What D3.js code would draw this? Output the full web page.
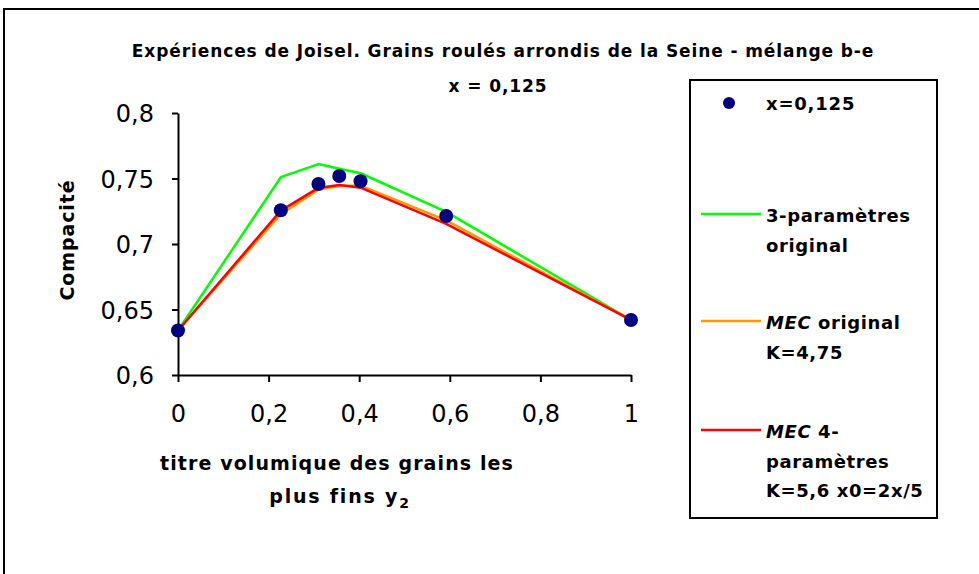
<!DOCTYPE html>
<html>
<head>
<meta charset="utf-8">
<script src="https://cdn.jsdelivr.net/npm/d3@7"></script>
<style>
  html, body { margin: 0; padding: 0; background: #fff; }
  svg { display: block; }
  .bold { font-family: "DejaVu Sans", sans-serif; font-weight: bold; }
</style>
</head>
<body>
<svg id="chart" width="979" height="574"></svg>
<script>
// Volume fraction of the finest grains (y2)
const titres = [0, 0.227, 0.31, 0.356, 0.403, 0.592, 1];
// Measured packing density, x = 0,125
const mesures = [0.634, 0.7258, 0.7458, 0.7519, 0.7479, 0.7214, 0.642];
// Model curves
const troisParametres = [0.634, 0.751, 0.761, 0.7575, 0.754, 0.7245, 0.642];
const mecOriginal = [0.634, 0.7228, 0.7415, 0.7443, 0.7446, 0.718, 0.642];
const mecQuatre = [0.634, 0.7255, 0.7428, 0.745, 0.743, 0.7153, 0.642];

const xTicks = [0, 0.2, 0.4, 0.6, 0.8, 1];
const yTicks = [0.6, 0.65, 0.7, 0.75, 0.8];

const titreLignes = ["Expériences de Joisel. Grains roulés arrondis de la Seine - mélange b-e", "x = 0,125"];

const courbes = [
  { nom: "3-paramètres", valeurs: troisParametres, couleur: "#00ff00", legende: [["3-paramètres"], ["original"]] },
  { nom: "MEC original", valeurs: mecOriginal, couleur: "#ff9900", legende: [["MEC", " original"], ["K=4,75"]] },
  { nom: "MEC 4-paramètres", valeurs: mecQuatre, couleur: "#ff0000", legende: [["MEC", " 4-"], ["paramètres"], ["K=5,6 x0=2x/5"]] }
];

const fmt = v => String(v).replace(".", ",");

const svg = d3.select("#chart");

// Outer chart frame
svg.append("rect")
  .attr("x", 4).attr("y", 9).attr("width", 1000).attr("height", 600)
  .attr("fill", "none").attr("stroke", "#000").attr("stroke-width", 2);

const x = d3.scaleLinear().domain([0, 1]).range([178, 631]);
const y = d3.scaleLinear().domain([0.6, 0.8]).range([375, 113]);

// Title
svg.append("text").attr("class", "bold")
  .attr("x", 503).attr("y", 57).attr("text-anchor", "middle")
  .attr("font-size", 17).attr("letter-spacing", 0.9).text(titreLignes[0]);
svg.append("text").attr("class", "bold")
  .attr("x", 498).attr("y", 92).attr("text-anchor", "middle")
  .attr("font-size", 17).attr("letter-spacing", 0.9).text(titreLignes[1]);

// Axes
const xAxis = d3.axisBottom(x).tickValues(xTicks).tickFormat(fmt).tickSize(7).tickSizeOuter(0).tickPadding(23);
const yAxis = d3.axisLeft(y).tickValues(yTicks).tickFormat(fmt).tickSize(6).tickSizeOuter(0).tickPadding(18);

const gx = svg.append("g").attr("transform", `translate(0,${y(0.6)})`).call(xAxis);
const gy = svg.append("g").attr("transform", `translate(${x(0)},0)`).call(yAxis);

[gx, gy].forEach(g => {
  g.select(".domain").attr("stroke", "#000").attr("stroke-width", 2);
  g.selectAll(".tick line").attr("stroke", "#000").attr("stroke-width", 2);
  g.selectAll(".tick text")
    .attr("font-family", "DejaVu Sans, sans-serif")
    .attr("font-size", 24).attr("fill", "#000");
});
gy.selectAll(".tick text").attr("dy", "0.36em");

// Axis titles
svg.append("text").attr("class", "bold")
  .attr("transform", "translate(74,240) rotate(-90)")
  .attr("text-anchor", "middle").attr("font-size", 19).attr("letter-spacing", 0.9).text("Compacité");

svg.append("text").attr("class", "bold")
  .attr("x", 337).attr("y", 470).attr("text-anchor", "middle")
  .attr("font-size", 19).attr("letter-spacing", 1.1).text("titre volumique des grains les");
const t2 = svg.append("text").attr("class", "bold")
  .attr("x", 340).attr("y", 503).attr("text-anchor", "middle")
  .attr("font-size", 19).attr("letter-spacing", 1.8);
t2.append("tspan").text("plus fins y");
t2.append("tspan").attr("font-size", 14).attr("dy", 5).text("2");

// Model curves
const ligne = d3.line().x((d, i) => x(titres[i])).y(d => y(d));
courbes.forEach(c => {
  svg.append("path")
    .attr("d", ligne(c.valeurs))
    .attr("fill", "none").attr("stroke", c.couleur)
    .attr("stroke-width", 2.5).attr("stroke-linejoin", "round");
});

// Measured points
svg.append("g").selectAll("circle")
  .data(mesures).join("circle")
  .attr("cx", (d, i) => x(titres[i])).attr("cy", d => y(d))
  .attr("r", 7).attr("fill", "#000080");

// Legend
const leg = svg.append("g");
leg.append("rect")
  .attr("x", 690).attr("y", 80).attr("width", 247).attr("height", 438)
  .attr("fill", "#fff").attr("stroke", "#000").attr("stroke-width", 2);

leg.append("circle").attr("cx", 729).attr("cy", 103).attr("r", 6).attr("fill", "#000080");
leg.append("text").attr("class", "bold").attr("x", 766).attr("y", 110)
  .attr("font-size", 18).attr("letter-spacing", 0.8).text("x=0,125");

const legY = [214, 321, 430];
courbes.forEach((c, k) => {
  leg.append("line")
    .attr("x1", 701).attr("x2", 761).attr("y1", legY[k]).attr("y2", legY[k])
    .attr("stroke", c.couleur).attr("stroke-width", 2.5);
  c.legende.forEach((parts, j) => {
    const t = leg.append("text").attr("class", "bold")
      .attr("x", 766).attr("y", legY[k] + 8 + j * 29.5)
      .attr("font-size", 18).attr("letter-spacing", 0.6);
    parts.forEach(p => {
      const s = t.append("tspan").text(p);
      if (p === "MEC") s.attr("font-style", "italic");
    });
  });
});
</script>
</body>
</html>
